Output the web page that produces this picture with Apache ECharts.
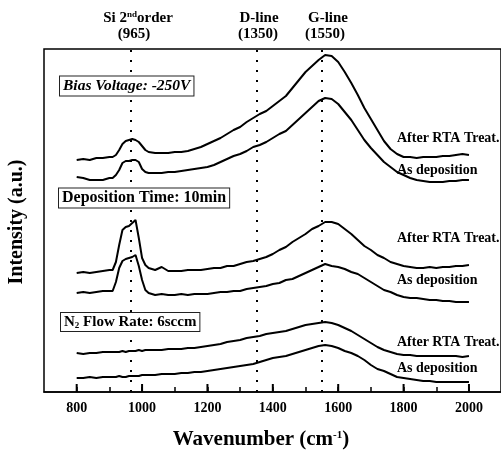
<!DOCTYPE html>
<html>
<head>
<meta charset="utf-8">
<script src="https://cdn.jsdelivr.net/npm/echarts@6/dist/echarts.min.js"></script>
<style>
  html, body { margin: 0; padding: 0; background: #fff; }
  #chart { width: 501px; height: 453px; }
</style>
</head>
<body>
<div id="chart"></div>
<script>
// wavenumber grid (cm-1), denser around the Si 2nd order peak
var wavenumber = [800, 820, 840, 860, 880, 900,
  910, 920, 930, 940, 950, 960, 970, 980, 990, 1000, 1010, 1020,
  1040, 1060, 1080, 1100, 1120, 1140, 1160, 1180, 1200, 1220, 1240, 1260, 1280, 1300,
  1320, 1340, 1360, 1380, 1400, 1420, 1440, 1460, 1480, 1500, 1520, 1540, 1560, 1580,
  1600, 1620, 1640, 1660, 1680, 1700, 1720, 1740, 1760, 1780, 1800, 1820, 1840, 1860,
  1880, 1900, 1920, 1940, 1960, 1980, 2000];

// Bias Voltage: -250V
var biasRTA = [232, 233, 232, 234, 234, 235,
  235, 237, 242, 248, 251, 252, 253, 252, 250, 246, 242, 240,
  239, 239, 239, 240, 240, 241, 243, 245, 248, 251, 254, 258, 262, 265,
  270, 274, 278, 281, 286, 291, 296, 304, 312, 320, 326, 332, 337, 336,
  330, 320, 309, 297, 284, 273, 262, 251, 243, 238, 235, 235, 234, 235,
  235, 235, 236, 236, 237, 238, 237];
var biasAsDep = [215, 214, 212, 212, 212, 214,
  214, 217, 222, 229, 231, 231, 232, 232, 230, 223, 220, 219,
  219, 219, 220, 220, 221, 222, 223, 224, 225, 227, 230, 233, 236, 238,
  241, 245, 247, 250, 254, 258, 261, 267, 273, 279, 285, 291, 294, 293,
  288, 280, 272, 262, 252, 244, 237, 230, 225, 220, 217, 214, 212, 211,
  210, 210, 210, 211, 211, 212, 212];

// Deposition Time: 10min
var timeRTA = [119, 120, 119, 120, 121, 122,
  122, 130, 147, 162, 165, 166, 169, 172, 154, 134, 127, 124,
  122, 125, 121, 121, 121, 122, 122, 122, 123, 124, 124, 126, 126, 128,
  130, 131, 133, 135, 138, 142, 145, 150, 154, 158, 163, 166, 170, 170,
  168, 163, 158, 152, 146, 142, 137, 134, 130, 128, 126, 125, 124, 124,
  125, 124, 125, 125, 126, 126, 127];
var timeAsDep = [99, 100, 99, 100, 101, 101,
  101, 110, 124, 131, 133, 134, 135, 137, 126, 112, 102, 99,
  97, 98, 97, 97, 98, 97, 98, 98, 98, 99, 100, 100, 101, 101,
  103, 104, 105, 106, 108, 109, 112, 113, 116, 119, 122, 125, 128, 126,
  125, 123, 120, 118, 114, 110, 106, 102, 100, 97, 95, 94, 94, 93,
  92, 92, 91, 91, 90, 90, 90];

// N2 Flow Rate: 6sccm
var flowRTA = [39, 38, 39, 39, 40, 40,
  40, 40, 40, 41, 40, 41, 41, 41, 42, 41, 42, 42,
  42, 42, 43, 43, 43, 44, 44, 45, 46, 47, 48, 50, 51, 52,
  54, 55, 56, 58, 59, 60, 61, 63, 65, 67, 68, 69, 70, 69,
  67, 64, 61, 57, 53, 49, 45, 42, 40, 38, 37, 37, 36, 36,
  36, 36, 36, 36, 36, 35, 36];
var flowAsDep = [14, 14, 15, 14, 15, 15,
  15, 15, 16, 15, 15, 16, 16, 16, 16, 17, 17, 17,
  17, 18, 18, 18, 19, 19, 20, 20, 21, 22, 23, 24, 25, 26,
  27, 28, 30, 32, 34, 35, 36, 38, 40, 42, 44, 46, 47, 46,
  44, 41, 39, 36, 32, 27, 23, 21, 18, 15, 14, 13, 12, 11,
  11, 10, 10, 10, 10, 10, 10];

var peakLines = [965, 1350, 1550];
var majorTicks = [800, 1000, 1200, 1400, 1600, 1800, 2000];

var serif = '"Liberation Serif", "DejaVu Serif", serif';

function pairs(vals) {
  return wavenumber.map(function (w, i) { return [w, vals[i]]; });
}

function spectrum(vals, withLines) {
  var s = {
    type: 'line',
    data: pairs(vals),
    symbol: 'none',
    silent: true,
    lineStyle: { color: '#000', width: 2 },
    itemStyle: { color: '#000' }
  };
  if (withLines) {
    s.markLine = {
      silent: true,
      symbol: ['none', 'none'],
      label: { show: false },
      lineStyle: { color: '#000', type: [2, 8], width: 2 },
      data: peakLines.map(function (v) { return { xAxis: v }; })
    };
  }
  return s;
}

// longer inward ticks on the labelled values, placed through the x scale
function tickSeries(values, len, width) {
  return {
    type: 'custom',
    silent: true,
    clip: false,
    z: 10,
    data: values.map(function (v) { return [v, 0]; }),
    renderItem: function (params, api) {
      var p = api.coord([api.value(0), 0]);
      return {
        type: 'line',
        shape: { x1: p[0], y1: p[1], x2: p[0], y2: p[1] - len },
        style: { stroke: '#000', lineWidth: width }
      };
    }
  };
}

function txt(x, y, text, size, extra) {
  var style = {
    text: text,
    x: x, y: y,
    fill: '#000',
    font: 'bold ' + size + 'px ' + serif,
    align: 'center',
    verticalAlign: 'middle'
  };
  if (extra) {
    for (var k in extra) style[k] = extra[k];
  }
  return { type: 'text', z: 100, style: style };
}

var boxStyle = {
  align: 'left',
  borderColor: '#222',
  borderWidth: 1,
  backgroundColor: '#fff',
  padding: [2, 3, 1, 3]
};

var chart = echarts.init(document.getElementById('chart'));
chart.setOption({
  animation: false,
  backgroundColor: '#fff',
  grid: {
    left: 44, right: -2, top: 49, bottom: 61,
    show: true, borderColor: '#000', borderWidth: 1.5
  },
  xAxis: {
    type: 'value', min: 700, max: 2098, interval: 100,
    axisLine: { show: true, lineStyle: { color: '#000', width: 1.5 } },
    splitLine: { show: false },
    axisTick: { show: true, inside: true, length: 5, lineStyle: { color: '#000', width: 1.5 } },
    axisLabel: {
      margin: 9, color: '#000',
      fontFamily: serif, fontWeight: 'bold', fontSize: 14,
      showMinLabel: false, showMaxLabel: false,
      formatter: function (v) { return majorTicks.indexOf(v) >= 0 ? String(v) : ''; }
    }
  },
  yAxis: { type: 'value', min: 0, max: 343, show: false },
  series: [
    spectrum(biasRTA, true),
    spectrum(biasAsDep),
    spectrum(timeRTA),
    spectrum(timeAsDep),
    spectrum(flowRTA),
    spectrum(flowAsDep),
    tickSeries(majorTicks, 8, 2)
  ],
  graphic: [
    // peak names above the plot
    txt(138, 18, 'Si 2{sup|nd}order', 15, { rich: { sup: { font: 'bold 9px ' + serif, verticalAlign: 'top', fill: '#000' } } }),
    txt(134, 34, '(965)', 15),
    txt(259, 18, 'D-line', 15),
    txt(258, 34, '(1350)', 15),
    txt(328, 18, 'G-line', 15),
    txt(325, 34, '(1550)', 15),
    // group boxes
    txt(60, 86, 'Bias Voltage: -250V', 15.5, Object.assign({}, boxStyle, { font: 'italic bold 15.5px ' + serif })),
    txt(59, 198, 'Deposition Time: 10min', 16, boxStyle),
    txt(61, 322, 'N{sub|2} Flow Rate: 6sccm', 15, Object.assign({}, boxStyle, {
      rich: { sub: { font: 'bold 9px ' + serif, verticalAlign: 'bottom', fill: '#000' } }
    })),
    // curve labels
    txt(397, 138, 'After RTA Treat.', 14, { align: 'left' }),
    txt(397, 170, 'As deposition', 14, { align: 'left' }),
    txt(397, 238, 'After RTA Treat.', 14, { align: 'left' }),
    txt(397, 280, 'As deposition', 14, { align: 'left' }),
    txt(397, 342, 'After RTA Treat.', 14, { align: 'left' }),
    txt(397, 368, 'As deposition', 14, { align: 'left' }),
    // axis titles
    txt(261, 440, 'Wavenumber (cm{sup|-1})', 21, { rich: { sup: { font: 'bold 11px ' + serif, verticalAlign: 'top', fill: '#000' } } }),
    { type: 'text', z: 100, x: 17, y: 222, rotation: Math.PI / 2,
      style: { text: 'Intensity (a.u.)', fill: '#000', font: 'bold 20px ' + serif, align: 'center', verticalAlign: 'middle' } }
  ]
});
</script>
</body>
</html>
